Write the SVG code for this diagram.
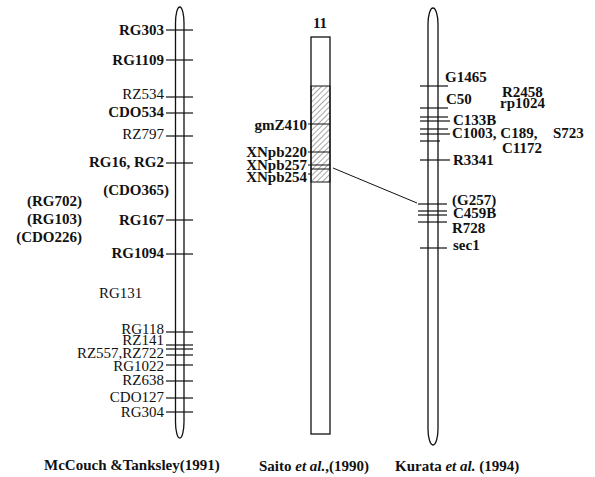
<svg xmlns="http://www.w3.org/2000/svg" width="595" height="477" viewBox="0 0 595 477">
<defs>
<pattern id="hatch" patternUnits="userSpaceOnUse" width="4" height="4" patternTransform="rotate(45)">
<line x1="0" y1="0" x2="0" y2="4" stroke="#222" stroke-width="0.8"/>
</pattern>
</defs>
<style>
text{font-family:"Liberation Serif","Times New Roman",serif;font-size:15px;fill:#111}
.b{font-weight:bold}
.e{text-anchor:end}
.chr{fill:#fff;stroke:#111;stroke-width:1.3}
.t{stroke:#111;stroke-width:1.2}
.c{stroke:#111;stroke-width:1}
</style>
<rect width="595" height="477" fill="#fff"/>

<g id="chr-mccouch">
<rect class="chr" x="175.5" y="7" width="8.5" height="431" rx="4.25" ry="16"/>
<g class="t">
<line x1="166" y1="30" x2="193" y2="30"/>
<line x1="166" y1="60" x2="193" y2="60"/>
<line x1="166" y1="97" x2="193" y2="97"/>
<line x1="166" y1="113" x2="193" y2="113"/>
<line x1="166" y1="136" x2="193" y2="136"/>
<line x1="166" y1="163" x2="193" y2="163"/>
<line x1="166" y1="220" x2="193" y2="220"/>
<line x1="166" y1="254" x2="193" y2="254"/>
<line x1="166" y1="332" x2="193" y2="332"/>
<line x1="166" y1="345" x2="193" y2="345"/>
<line x1="166" y1="349" x2="193" y2="349"/>
<line x1="166" y1="355" x2="193" y2="355"/>
<line x1="166" y1="365" x2="193" y2="365"/>
<line x1="166" y1="381" x2="193" y2="381"/>
<line x1="166" y1="398" x2="193" y2="398"/>
<line x1="166" y1="412" x2="193" y2="412"/>
</g>
<text class="b e" x="164" y="35">RG303</text>
<text class="b e" x="164" y="65">RG1109</text>
<text class="e" x="164" y="99">RZ534</text>
<text class="b e" x="164" y="117">CDO534</text>
<text class="e" x="164" y="139">RZ797</text>
<text class="b e" x="164" y="167">RG16, RG2</text>
<text class="b e" x="169" y="195">(CDO365)</text>
<text class="b e" x="82" y="206">(RG702)</text>
<text class="b e" x="82" y="224">(RG103)</text>
<text class="b e" x="82" y="242">(CDO226)</text>
<text class="b e" x="164" y="225">RG167</text>
<text class="b e" x="164" y="258">RG1094</text>
<text x="99" y="298">RG131</text>
<text class="e" x="164" y="334">RG118</text>
<text class="e" x="164" y="345">RZ141</text>
<text class="e" x="164" y="358">RZ557,RZ722</text>
<text class="e" x="164" y="371">RG1022</text>
<text class="e" x="164" y="385">RZ638</text>
<text class="e" x="164" y="402">CDO127</text>
<text class="e" x="164" y="417">RG304</text>
<text class="b" x="44" y="470">McCouch &amp;Tanksley(1991)</text>
</g>

<g id="chr-saito">
<text class="b" x="320" y="28" text-anchor="middle">11</text>
<rect class="chr" x="311" y="37" width="19" height="397"/>
<rect x="311" y="86" width="19" height="96" fill="url(#hatch)" stroke="#111" stroke-width="1"/>
<g class="c">
<line x1="308" y1="124" x2="330" y2="124"/>
<line x1="308" y1="152" x2="330" y2="152"/>
<line x1="308" y1="165" x2="330" y2="165"/>
<line x1="311" y1="169" x2="330" y2="169"/>
<line x1="308" y1="174" x2="311" y2="174"/>
</g>
<text class="b e" x="307" y="130">gmZ410</text>
<text class="b e" x="307" y="157">XNpb220</text>
<text class="b e" x="307" y="170">XNpb257</text>
<text class="b e" x="307" y="182">XNpb254</text>
<text class="b" x="259" y="471">Saito <tspan font-style="italic">et al.</tspan>,(1990)</text>
</g>

<g id="chr-kurata">
<rect class="chr" x="428" y="8" width="10" height="437" rx="5" ry="16"/>
<g class="t">
<line x1="420" y1="86" x2="448" y2="86"/>
<line x1="420" y1="108" x2="448" y2="108"/>
<line x1="420" y1="117" x2="448" y2="117"/>
<line x1="420" y1="121" x2="450" y2="121"/>
<line x1="420" y1="129" x2="448" y2="129"/>
<line x1="420" y1="134" x2="450" y2="134"/>
<line x1="420" y1="141" x2="440" y2="141"/>
<line x1="420" y1="160" x2="450" y2="160"/>
<line x1="418" y1="204" x2="447" y2="204"/>
<line x1="418" y1="211" x2="447" y2="211"/>
<line x1="418" y1="215" x2="447" y2="215"/>
<line x1="418" y1="222" x2="447" y2="222"/>
<line x1="420" y1="248" x2="447" y2="248"/>
</g>
<text class="b" x="445" y="82">G1465</text>
<text class="b" x="502" y="97">R2458</text>
<text class="b" x="446" y="104">C50</text>
<text class="b" x="500" y="108">rp1024</text>
<text class="b" x="453" y="125">C133B</text>
<text class="b" x="452" y="138">C1003, C189,</text>
<text class="b" x="553" y="138">S723</text>
<text class="b" x="502" y="153">C1172</text>
<text class="b" x="453" y="165">R3341</text>
<text class="b" x="452" y="205">(G257)</text>
<text class="b" x="453" y="218">C459B</text>
<text class="b" x="452" y="233">R728</text>
<text class="b" x="453" y="250">sec1</text>
<text class="b" x="395" y="471">Kurata <tspan font-style="italic">et al.</tspan> (1994)</text>
</g>

<g id="connectors">
<line class="c" x1="333" y1="168" x2="417" y2="203"/>
</g>
</svg>
